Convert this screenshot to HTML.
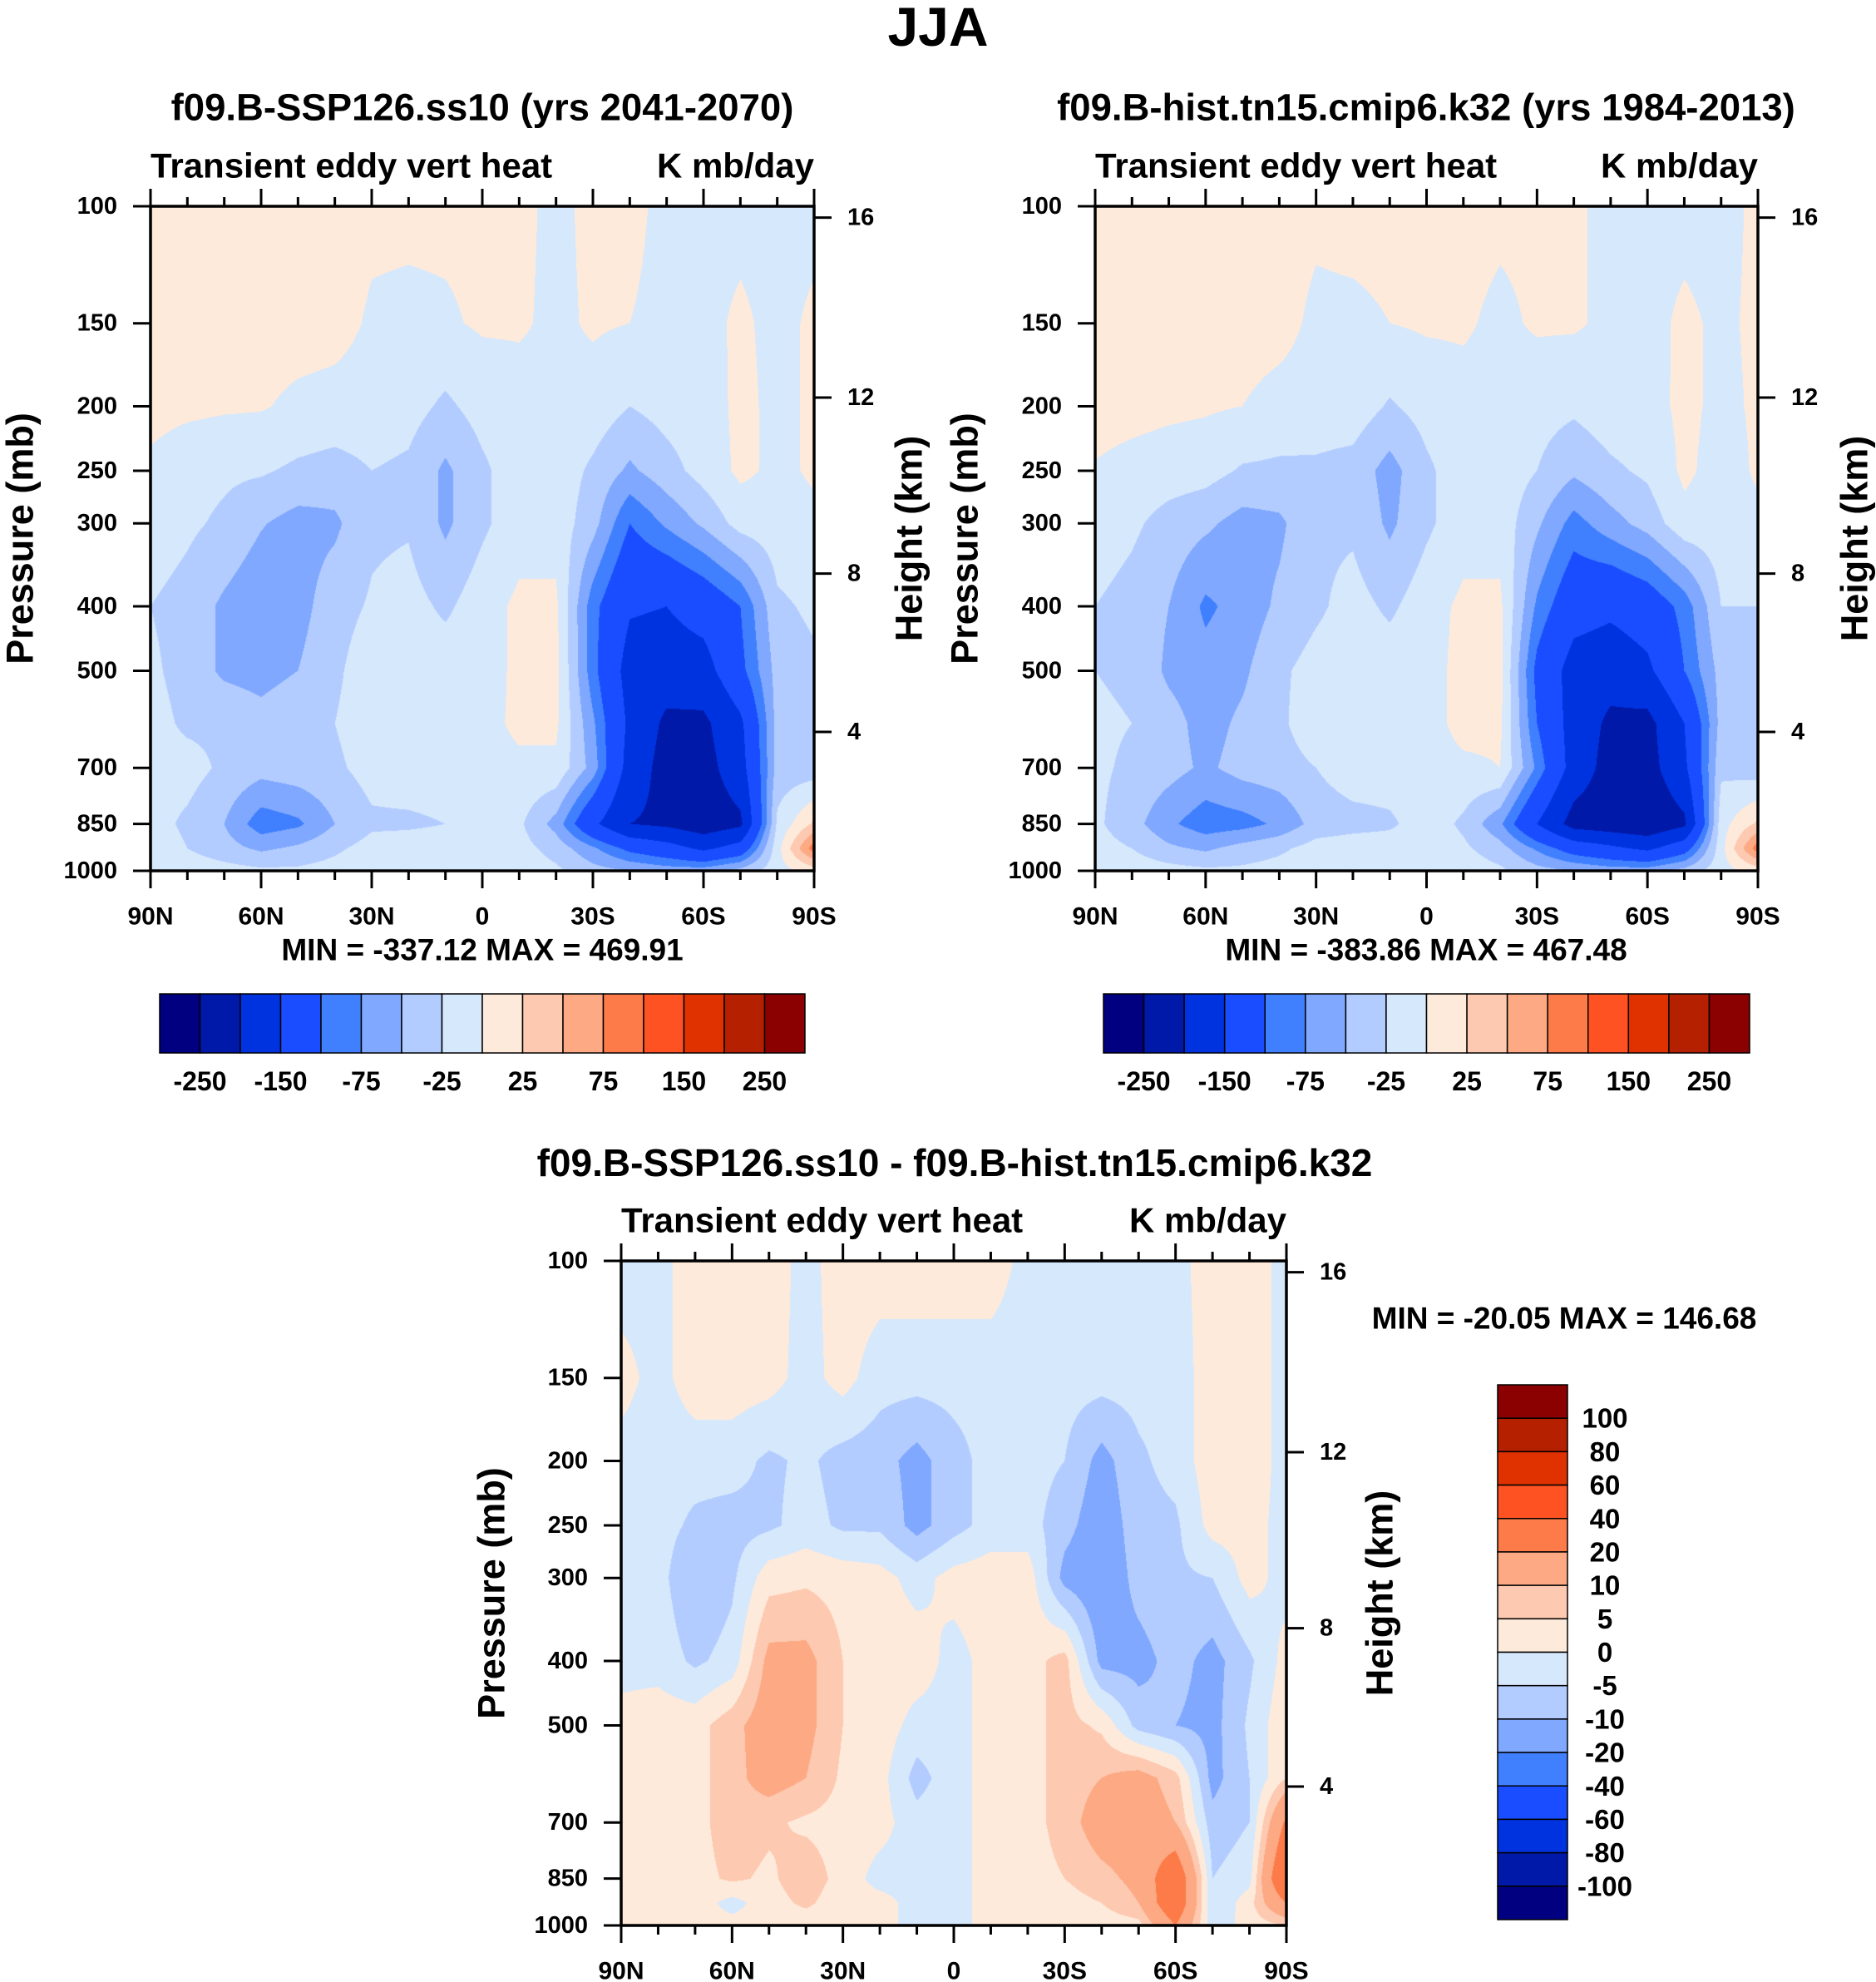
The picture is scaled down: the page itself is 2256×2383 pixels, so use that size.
<!DOCTYPE html>
<html><head><meta charset="utf-8">
<style>
html,body{margin:0;padding:0;background:#fff;}
#page{position:relative;width:2256px;height:2383px;overflow:hidden;background:#fff;}
canvas{position:absolute;}
svg{position:absolute;left:0;top:0;}
</style></head>
<body>
<div id="page">
<canvas id="c1"></canvas>
<canvas id="c2"></canvas>
<canvas id="c3"></canvas>
<svg id="svg" width="2256" height="2383" xmlns="http://www.w3.org/2000/svg"></svg>
</div>
<script>
const lats = [90,80,70,60,50,40,30,20,10,0,-10,-20,-30,-40,-50,-60,-70,-80,-90];
const levels = [100,150,200,250,300,400,500,600,700,850,925,1000];
const p1Values = [
[10,10,10,10,10,10,5,5,5,5,5,-5,5,5,-5,-5,-5,-5,-5],
[10,10,10,10,10,8,-3,-5,-3,3,3,-5,3,0,-5,-5,3,-5,3],
[8,5,3,2,-5,-8,-10,-15,-30,-15,-10,-8,-10,-25,-15,-10,5,-5,3],
[-5,-15,-20,-22,-30,-35,-25,-30,-55,-30,-10,-10,-30,-55,-35,-15,5,-5,3],
[-10,-20,-30,-48,-60,-55,-30,-28,-55,-30,-10,-10,-40,-100,-70,-45,-15,-10,-5],
[-25,-35,-55,-70,-60,-35,-22,-15,-30,-10,5,5,-90,-145,-150,-130,-100,-30,-20],
[-20,-35,-55,-60,-50,-30,-10,-10,-10,-10,5,8,-90,-170,-175,-170,-110,-40,-30],
[-15,-30,-30,-40,-30,-25,-10,-10,-10,-8,5,5,-70,-160,-210,-210,-160,-40,-30],
[-15,-15,-30,-40,-35,-30,-15,-10,-10,-8,-5,-5,-60,-170,-220,-220,-170,-40,-40],
[-15,-30,-50,-90,-80,-50,-30,-30,-25,-10,-20,-60,-140,-200,-210,-230,-210,-20,30],
[-10,-25,-40,-55,-45,-30,-15,-10,-8,-8,-15,-35,-70,-110,-130,-160,-130,-10,90],
[-10,-10,-15,-20,-20,-15,-10,-10,-8,-8,-10,-20,-40,-50,-60,-60,-40,-10,10]
];
const p2Values = [
[10,10,10,10,10,10,5,8,8,8,8,5,5,3,-5,-5,-5,-5,3],
[10,10,10,10,10,8,-5,-5,0,3,3,-5,3,3,-5,-5,3,-3,3],
[10,8,5,3,0,-8,-10,-10,-28,-15,-8,-8,-15,-20,-10,-8,5,-5,3],
[-2,-8,-12,-15,-28,-30,-30,-35,-60,-30,-10,-10,-25,-45,-30,-20,5,-10,3],
[-10,-20,-35,-45,-60,-55,-30,-30,-55,-30,-10,-10,-45,-85,-60,-40,-8,-10,-5],
[-25,-35,-50,-80,-65,-45,-30,-15,-30,-10,5,5,-80,-130,-140,-125,-90,-25,-25],
[-25,-30,-55,-65,-55,-30,-15,-10,-10,-10,8,8,-110,-170,-180,-160,-100,-40,-30],
[-20,-25,-40,-60,-45,-30,-10,-10,-10,-10,8,5,-100,-170,-210,-215,-150,-40,-30],
[-20,-30,-40,-55,-40,-35,-25,-10,-10,-10,-5,0,-80,-170,-220,-220,-160,-30,-40],
[-20,-40,-70,-90,-85,-70,-40,-35,-30,-10,-30,-70,-150,-220,-230,-240,-210,-10,30],
[-15,-25,-45,-55,-40,-30,-15,-10,-10,-8,-20,-40,-80,-120,-140,-160,-120,-10,90],
[-10,-10,-15,-20,-20,-15,-10,-10,-8,-8,-10,-20,-40,-50,-60,-60,-40,-10,10]
];
const p3Values = [
[-3,-2,3,3,3,-2,3,3,3,3,3,-2,-2,-2,-2,-2,3,3,-2],
[2,-2,3,3,2,-2,2,-3,-3,-3,-3,-3,-3,-3,-3,-3,3,3,-2],
[-2,-3,-3,-3,-6,-4,-7,-8,-12,-7,-3,-3,-5,-12,-6,-3,3,3,-2],
[-2,-3,-6,-7,-6,-3,-6,-6,-12,-7,-3,-3,-8,-14,-7,-6,2,2,-2],
[-2,-3,-10,-6,3,4,3,2,-2,2,3,3,-12,-15,-8,-6,-5,2,-2],
[-2,-2,-6,-3,12,12,5,3,3,-2,2,3,7,-12,-12,-8,-12,-6,2],
[2,3,3,8,14,12,5,3,-2,-2,2,3,7,4,-7,-10,-12,-4,4],
[2,4,3,8,13,10,4,2,-7,-2,2,3,7,10,13,7,-12,-5,5],
[2,2,3,8,6,4,3,2,-3,-2,2,3,7,14,15,10,-8,-5,22],
[2,3,3,6,4,8,3,-2,-2,-2,2,3,5,8,12,30,-5,-2,35],
[2,2,3,-2,3,6,2,2,-2,-2,2,2,3,5,10,30,-5,3,20],
[2,2,2,2,2,2,2,2,-2,-2,2,2,2,2,3,20,-3,2,5]
];
const bins12 = [-250,-200,-150,-100,-75,-50,-25,0,25,50,75,100,150,200,250];
const bins3 = [-100,-80,-60,-40,-20,-10,-5,0,5,10,20,40,60,80,100];
const colors = ['#000080','#0019a8','#0033e0','#1a4dff','#4080ff','#80a8ff','#b3ccff','#d6e8fc','#feeadb','#fdc9b0','#fca984','#fd7b48','#fe5222','#e03200','#b42000','#8b0000'];
const cbLabels12 = ['-250','-150','-75','-25','25','75','150','250'];
const cbLabels3 = ['-100','-80','-60','-40','-20','-10','-5','0','5','10','20','40','60','80','100'];
const xTickLats = [90,60,30,0,-30,-60,-90];
const xTickLabels = ['90N','60N','30N','0','30S','60S','90S'];
const pTicks = [100,150,200,250,300,400,500,700,850,1000];
const hTickLabels = ['16','12','8','4'];
const hTickP = [104,194,357,618];

const NS='http://www.w3.org/2000/svg';
const svg=document.getElementById('svg');
function el(tag,attrs,parent){const e=document.createElementNS(NS,tag);for(const k in attrs)e.setAttribute(k,attrs[k]);(parent||svg).appendChild(e);return e;}
function txt(s,x,y,size,anchor,name,opts){
  const t=el('text',{x:x,y:y,'font-size':size,'text-anchor':anchor||'middle','font-family':'"Liberation Sans",sans-serif','font-weight':'bold','dominant-baseline':'central',fill:'#000'});
  if(opts&&opts.rot)t.setAttribute('transform','rotate(-90 '+x+' '+y+')');
  t.textContent=s;
  
  
  return t;
}
function binIndex(v,bins){let i=0;while(i<bins.length&&v>=bins[i])i++;return i;}
function hexToRgb(h){return [parseInt(h.substr(1,2),16),parseInt(h.substr(3,2),16),parseInt(h.substr(5,2),16)];}
const rgb=colors.map(hexToRgb);
const logLev=levels.map(p=>Math.log10(p));

function drawPanel(cfg){
  const {L,T,W,H,values,bins,canvasId,id}=cfg;
  const xOf=lat=>L+(90-lat)/180*W;
  const yOf=p=>T+Math.log10(p/100)*H;
  const cv=document.getElementById(canvasId);
  cv.width=W;cv.height=H;cv.style.left=L+'px';cv.style.top=T+'px';
  const ctx=cv.getContext('2d');
  const img=ctx.createImageData(W,H);
  const nL=lats.length;
  for(let py=0;py<H;py++){
    const lp=2+(py+0.5)/H;
    let k=0;while(k<levels.length-2&&lp>logLev[k+1])k++;
    let ty=(lp-logLev[k])/(logLev[k+1]-logLev[k]);ty=Math.max(0,Math.min(1,ty));
    const r0=values[k],r1=values[k+1];
    for(let px=0;px<W;px++){
      const lat=90-(px+0.5)/W*180;
      let fi=(lats[0]-lat)/(lats[0]-lats[1]);
      let i=Math.min(nL-2,Math.floor(fi));let tx=fi-i;
      const v=(r0[i]*(1-tx)+r0[i+1]*tx)*(1-ty)+(r1[i]*(1-tx)+r1[i+1]*tx)*ty;
      const c=rgb[binIndex(v,bins)];
      const o=(py*W+px)*4;img.data[o]=c[0];img.data[o+1]=c[1];img.data[o+2]=c[2];img.data[o+3]=255;
    }
  }
  ctx.putImageData(img,0,0);
  const g=el('g',{});
  
  
  const fs=29;
  const fr=el('rect',{x:L,y:T,width:W,height:H,fill:'none',stroke:'#000','stroke-width':3.5},g);
  
  
  for(let lat=90;lat>=-90;lat-=10){
    const x=xOf(lat);const major=lat%30===0;const len=major?21:11;
    const t1=el('line',{x1:x,y1:T+H,x2:x,y2:T+H+len,stroke:'#000','stroke-width':3},g);
    
    
    const t2=el('line',{x1:x,y1:T,x2:x,y2:T-len,stroke:'#000','stroke-width':3},g);
    
    
  }
  xTickLats.forEach((lat,i)=>{txt(xTickLabels[i],xOf(lat),T+H+55,30,'middle','x-tick-label');});
  pTicks.forEach(p=>{
    const y=yOf(p);
    const t=el('line',{x1:L-21,y1:y,x2:L,y2:y,stroke:'#000','stroke-width':3},g);
    
    
    txt(String(p),L-40,y,fs,'end','pressure-tick-label');
  });
  hTickP.forEach((p,i)=>{
    const y=yOf(p);
    const t=el('line',{x1:L+W,y1:y,x2:L+W+21,y2:y,stroke:'#000','stroke-width':3},g);
    
    
    txt(hTickLabels[i],L+W+40,y,fs,'start','height-tick-label');
  });
  txt('Pressure (mb)',cfg.pTitleX,T+H/2,45,'middle','pressure-axis-title',{rot:true});
  txt('Height (km)',cfg.hTitleX,T+H/2,45,'middle','height-axis-title',{rot:true});
  txt('Transient eddy vert heat',L,T-49,42,'start','variable-label');
  txt('K mb/day',L+W,T-49,42,'end','units-label');
}

function hColorbar(L,T,W,H,labels,name){
  const n=colors.length;const bw=W/n;
  colors.forEach((c,i)=>{
    const r=el('rect',{x:L+i*bw,y:T,width:bw,height:H,fill:c,stroke:'#000','stroke-width':1.5});
    
    
  });
  labels.forEach((s,j)=>{txt(s,L+(1+2*j)*bw,T+H+34,32,'middle',name+'-label');});
}

txt('JJA',1128,32,66,'middle','figure-title');
txt('f09.B-SSP126.ss10 (yrs 2041-2070)',580,129,45.5,'middle','panel-title-ssp126');
txt('f09.B-hist.tn15.cmip6.k32 (yrs 1984-2013)',1715,129,45.5,'middle','panel-title-hist');
txt('f09.B-SSP126.ss10 - f09.B-hist.tn15.cmip6.k32',1148,1398,46,'middle','panel-title-difference');

drawPanel({L:181,T:248,W:798,H:799,values:p1Values,bins:bins12,canvasId:'c1',id:'ssp126',pTitleX:24,hTitleX:1093});
drawPanel({L:1317,T:248,W:797,H:799,values:p2Values,bins:bins12,canvasId:'c2',id:'hist',pTitleX:1160,hTitleX:2230});
drawPanel({L:747,T:1516,W:800,H:799,values:p3Values,bins:bins3,canvasId:'c3',id:'difference',pTitleX:591,hTitleX:1659});

txt('MIN = -337.12  MAX = 469.91',580,1142,37,'middle','min-max-ssp126');
txt('MIN = -383.86  MAX = 467.48',1715,1142,37,'middle','min-max-hist');
txt('MIN = -20.05  MAX = 146.68',1881,1585,37,'middle','min-max-difference');

hColorbar(192,1195,776,71,cbLabels12,'colorbar-ssp126');
hColorbar(1327,1195,777,71,cbLabels12,'colorbar-hist');

(function(){
  const L=1801,T=1665,W=84,H=643;const n=colors.length;const bh=H/n;
  for(let i=0;i<n;i++){
    const r=el('rect',{x:L,y:T+i*bh,width:W,height:bh,fill:colors[n-1-i],stroke:'#000','stroke-width':1.5});
    
    
  }
  for(let j=0;j<cbLabels3.length;j++){
    txt(cbLabels3[cbLabels3.length-1-j],1930,T+(j+1)*bh,33,'middle','colorbar-difference-label');
  }
})();
</script>
</body></html>
